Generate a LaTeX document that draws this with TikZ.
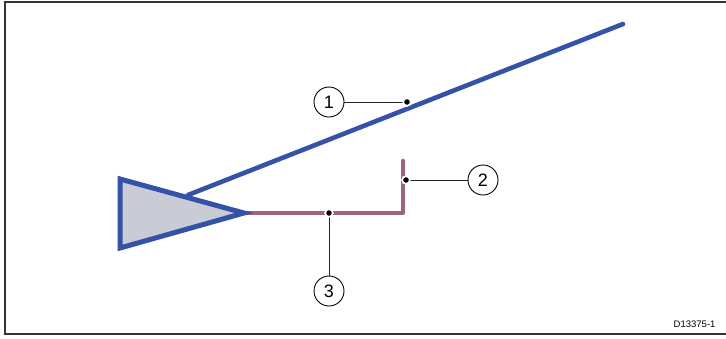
\documentclass[tikz,border=0pt]{standalone}
\usepackage{fontspec}
\setmainfont{Liberation Sans}
\begin{document}
\begin{tikzpicture}[x=1pt,y=-1pt,
  antenna/.style={draw=cableblue,line width=4.6pt,line cap=round,line join=round},
  feeder/.style={draw=cablepurple,line width=4.6pt,line cap=round,line join=round},
  callout/.style={circle,draw=black,line width=0.9pt,fill=white,minimum size=30pt,inner sep=0pt,font=\fontsize{18}{18}\selectfont},
  leader/.style={draw=black!85,line width=1pt},
  tipdot/.style={circle,fill=black,draw=white,line width=1.6pt,minimum size=7.5pt,inner sep=0pt}]
\definecolor{cableblue}{HTML}{3452A8}
\definecolor{cablepurple}{HTML}{A0627F}
\definecolor{hullgrey}{HTML}{C9CCD5}
\useasboundingbox (0,0) rectangle (726,338);
% frame
\draw[line width=2pt,draw=black!80] (727,1.5) -- (5,1.5) -- (5,334) -- (727,334);
% antenna element
\coordinate (a0) at (188,195);
\coordinate (a1) at (623,24);
\draw[antenna] (a0) -- (a1);
% feeder cable
\coordinate (tip) at (245,213);
\coordinate (bend) at (403,213);
\coordinate (ftop) at (403,161);
\draw[feeder] (tip) -- (bend) -- (ftop);
% triangle unit
\draw[draw=cableblue,fill=hullgrey,line width=5pt,line join=miter]
  (120,179) -- (244,213) -- (120,248) -- cycle;
% callouts
\node[callout] (c1) at (329,102) {1};
\node[callout] (c2) at (483,180) {2};
\node[callout] (c3) at (329,291) {3};
\node[tipdot] (d1) at (407,102) {};
\node[tipdot] (d2) at (406,180) {};
\node[tipdot] (d3) at (329,213) {};
\draw[leader] (c1) -- (d1.center);
\draw[leader] (c2) -- (d2.center);
\draw[leader] (c3) -- (d3.center);
\node[tipdot] at (d1) {};
\node[tipdot] at (d2) {};
\node[tipdot] at (d3) {};
% drawing number
\node[font=\fontsize{9.5}{9.5}\selectfont,anchor=east] (ref) at (719,324) {D13375-1};
\end{tikzpicture}
\end{document}
